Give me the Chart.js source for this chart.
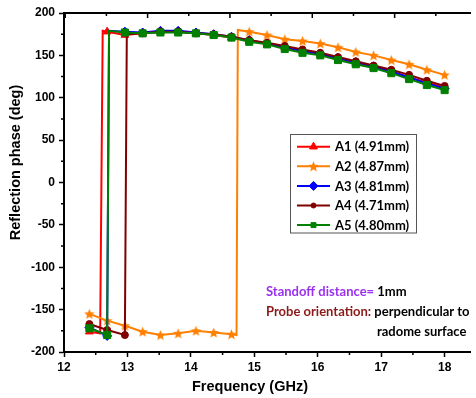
<!DOCTYPE html>
<html>
<head>
<meta charset="utf-8">
<script src="https://cdn.jsdelivr.net/npm/chart.js@4.4.1/dist/chart.umd.min.js"></script>
<style>
  html, body { margin: 0; padding: 0; background: #fff; overflow: hidden; }
  canvas { display: block; }
</style>
</head>
<body>
<canvas id="phaseChart" width="476" height="398"></canvas>
<script>
// series names (legend)
const seriesNames = ['A1 (4.91mm)', 'A2 (4.87mm)', 'A3 (4.81mm)', 'A4 (4.71mm)', 'A5 (4.80mm)'];

// frequency (GHz) / reflection phase (deg)
const a1Freq  = [12.4, 12.57, 12.61, 12.68, 12.96, 13.24, 13.52, 13.8, 14.08, 14.36, 14.64, 14.92, 15.2, 15.48, 15.76, 16.04, 16.32, 16.6, 16.88, 17.16, 17.44, 17.72, 18.0];
const a1Phase = [-176, -178, 179, 178, 174, 176, 178, 178, 176, 174, 171, 167, 164, 159, 155, 151, 146, 141, 136, 131, 124, 118, 112];

const a2Freq  = [12.4, 12.68, 12.96, 13.24, 13.52, 13.8, 14.08, 14.36, 14.64, 14.72, 14.74, 14.92, 15.2, 15.48, 15.76, 16.04, 16.32, 16.6, 16.88, 17.16, 17.44, 17.72, 18.0];
const a2Phase = [-155, -163, -169, -176, -180, -178, -175, -177, -179, -180, 180, 178, 174, 169, 167, 164, 159.5, 154, 150, 144.5, 139.5, 133, 127];

const a3Freq  = [12.4, 12.68, 12.71, 12.96, 13.24, 13.52, 13.8, 14.08, 14.36, 14.64, 14.92, 15.2, 15.48, 15.76, 16.04, 16.32, 16.6, 16.88, 17.16, 17.44, 17.72, 18.0];
const a3Phase = [-171, -181, 179, 178, 177, 179, 179, 177, 175, 172, 168, 164, 160, 155, 152, 147, 142, 137, 131, 124, 117, 111];

const a4Freq  = [12.4, 12.68, 12.96, 12.99, 13.24, 13.52, 13.8, 14.08, 14.36, 14.64, 14.92, 15.2, 15.48, 15.76, 16.04, 16.32, 16.6, 16.88, 17.16, 17.44, 17.72, 18.0];
const a4Phase = [-167, -174, -180, 175, 176, 178, 178, 176, 175, 172, 168, 165, 161, 157, 153, 148, 143, 138, 133, 127, 120, 114];

const a5Freq  = [12.4, 12.68, 12.71, 12.96, 13.24, 13.52, 13.8, 14.08, 14.36, 14.64, 14.92, 15.2, 15.48, 15.76, 16.04, 16.32, 16.6, 16.88, 17.16, 17.44, 17.72, 18.0];
const a5Phase = [-172, -180, 179, 177, 176, 177, 177, 176, 174, 171, 166, 163, 157.5, 153, 150, 144.5, 139.5, 135, 129, 122, 115, 109];

// markers sit on the measurement grid 12.4 + 0.28*k
const markerStart = 12.4;
const markerStep = 0.28;

function makeStar(color, size) {
  const c = document.createElement('canvas');
  c.width = c.height = size;
  const g = c.getContext('2d');
  const cx = size / 2, cy = size / 2 + 0.5, ro = size / 2, ri = ro * 0.45;
  g.beginPath();
  for (let i = 0; i < 10; i++) {
    const r = i % 2 ? ri : ro;
    const ang = -Math.PI / 2 + i * Math.PI / 5;
    g.lineTo(cx + r * Math.cos(ang), cy + r * Math.sin(ang));
  }
  g.closePath();
  g.fillStyle = color;
  g.fill();
  return c;
}

const styles = [
  { color: '#FF0000', point: 'triangle', r: 4.5, lr: 4.5 },
  { color: '#FF8000', point: makeStar('#FF8000', 11), r: 4, lr: 4 },
  { color: '#0000FF', point: 'rectRot', r: 4.5, lr: 4.5 },
  { color: '#800000', point: 'circle', r: 3.5, lr: 2.5 },
  { color: '#008000', point: 'rect', r: 5, lr: 3.5 }
];

const allFreq = [a1Freq, a2Freq, a3Freq, a4Freq, a5Freq];
const allPhase = [a1Phase, a2Phase, a3Phase, a4Phase, a5Phase];

function onGrid(x) {
  const k = (x - markerStart) / markerStep;
  return Math.abs(k - Math.round(k)) < 0.01;
}

const datasets = seriesNames.map((name, i) => ({
  label: name,
  data: allFreq[i].map((f, j) => ({ x: f, y: allPhase[i][j] })),
  borderColor: styles[i].color,
  backgroundColor: styles[i].color,
  borderWidth: 2,
  pointStyle: styles[i].point,
  pointRadius: c => (c.raw && onGrid(c.raw.x)) ? styles[i].r : 0,
  pointBackgroundColor: styles[i].color,
  pointBorderColor: styles[i].color,
  pointBorderWidth: 1,
  tension: 0,
  order: seriesNames.length - i
}));

const tickFont = { family: '"Liberation Sans", Arial, sans-serif', weight: 'bold', size: 12 };
const titleFont = 'bold 14.5px "Liberation Sans", Arial, sans-serif';
const noteFont = 'bold 13px Lato, "Open Sans", sans-serif';

const decorations = {
  id: 'decorations',
  afterDraw(chart) {
    const { ctx, chartArea: a, scales } = chart;
    const xs = scales.x, ys = scales.y, xt = scales.x2;
    ctx.save();
    ctx.strokeStyle = '#000';
    ctx.lineWidth = 1.5;
    ctx.beginPath();
    // minor ticks, left axis
    for (let v = -175; v < 200; v += 50) {
      const py = ys.getPixelForValue(v);
      ctx.moveTo(a.left - 3, py); ctx.lineTo(a.left, py);
    }
    // minor ticks, bottom axis
    for (let v = 12.5; v < 18.4; v += 1) {
      const px = xs.getPixelForValue(v);
      ctx.moveTo(px, a.bottom); ctx.lineTo(px, a.bottom + 3);
    }
    // top axis ticks point inward
    xt.ticks.forEach(t => {
      const px = xt.getPixelForValue(t.value);
      const len = Math.round(t.value) % 2 ? 5 : 3;
      ctx.moveTo(px, a.top); ctx.lineTo(px, a.top + len);
    });
    ctx.stroke();

    // axis titles
    ctx.fillStyle = '#000';
    ctx.font = titleFont;
    ctx.textAlign = 'center';
    ctx.textBaseline = 'middle';
    ctx.fillText('Frequency (GHz)', 250, 386.5);
    ctx.save();
    ctx.translate(16, 162.5);
    ctx.rotate(-Math.PI / 2);
    ctx.fillText('Reflection phase (deg)', 0, 0);
    ctx.restore();

    // legend box
    ctx.lineWidth = 1;
    ctx.strokeStyle = '#555';
    ctx.strokeRect(290.5, 134.5, 126, 98.5);
    ctx.font = noteFont;
    ctx.textAlign = 'left';
    seriesNames.forEach((name, i) => {
      const y = 146.7 + i * 19.6;
      const s = styles[i];
      ctx.strokeStyle = s.color;
      ctx.fillStyle = s.color;
      ctx.lineWidth = 2;
      ctx.beginPath();
      ctx.moveTo(297, y); ctx.lineTo(330, y);
      ctx.stroke();
      if (Chart.helpers && Chart.helpers.drawPoint) {
        ctx.lineWidth = 1;
        Chart.helpers.drawPoint(ctx, { pointStyle: s.point, radius: s.lr, rotation: 0, borderWidth: 1 }, 313.5, y);
      }
      ctx.fillStyle = '#000';
      ctx.fillText(name, 335, y + 0.5);
    });

    // notes
    ctx.fillStyle = '#9B30F0';
    ctx.fillText('Standoff distance=', 266, 292);
    let w = ctx.measureText('Standoff distance= ').width;
    ctx.fillStyle = '#000';
    ctx.fillText('1mm', 266 + w, 292);
    ctx.fillStyle = '#8B1A1A';
    ctx.fillText('Probe orientation:', 266, 312);
    w = ctx.measureText('Probe orientation: ').width;
    ctx.fillStyle = '#000';
    ctx.fillText('perpendicular to', 266 + w, 312);
    ctx.fillText('radome surface', 377, 331.5);
    ctx.restore();
  }
};

new Chart(document.getElementById('phaseChart').getContext('2d'), {
  type: 'line',
  data: { datasets },
  options: {
    responsive: false,
    animation: false,
    layout: { padding: 0 },
    plugins: { legend: { display: false }, tooltip: { enabled: false } },
    scales: {
      x: {
        type: 'linear',
        position: 'bottom',
        min: 12,
        max: 18.4,
        ticks: { stepSize: 1, includeBounds: false, color: '#000', font: tickFont, padding: 3 },
        grid: { drawOnChartArea: false, tickLength: 5, tickWidth: 1.5, tickColor: '#000' },
        border: { color: '#000', width: 2 },
        afterFit: s => { s.height = 46; }
      },
      x2: {
        type: 'linear',
        position: 'top',
        min: -1.03,
        max: 8.83,
        ticks: { display: false, stepSize: 1, includeBounds: false },
        grid: { drawOnChartArea: false, drawTicks: false },
        border: { color: '#000', width: 2 },
        afterFit: s => { s.height = 13; }
      },
      y: {
        min: -200,
        max: 200,
        ticks: { stepSize: 50, color: '#000', font: tickFont, padding: 4 },
        grid: { drawOnChartArea: false, tickLength: 5, tickWidth: 1.5, tickColor: '#000' },
        border: { color: '#000', width: 2 },
        afterFit: s => { s.width = 64; }
      }
    }
  },
  plugins: [decorations]
});
</script>
</body>
</html>
